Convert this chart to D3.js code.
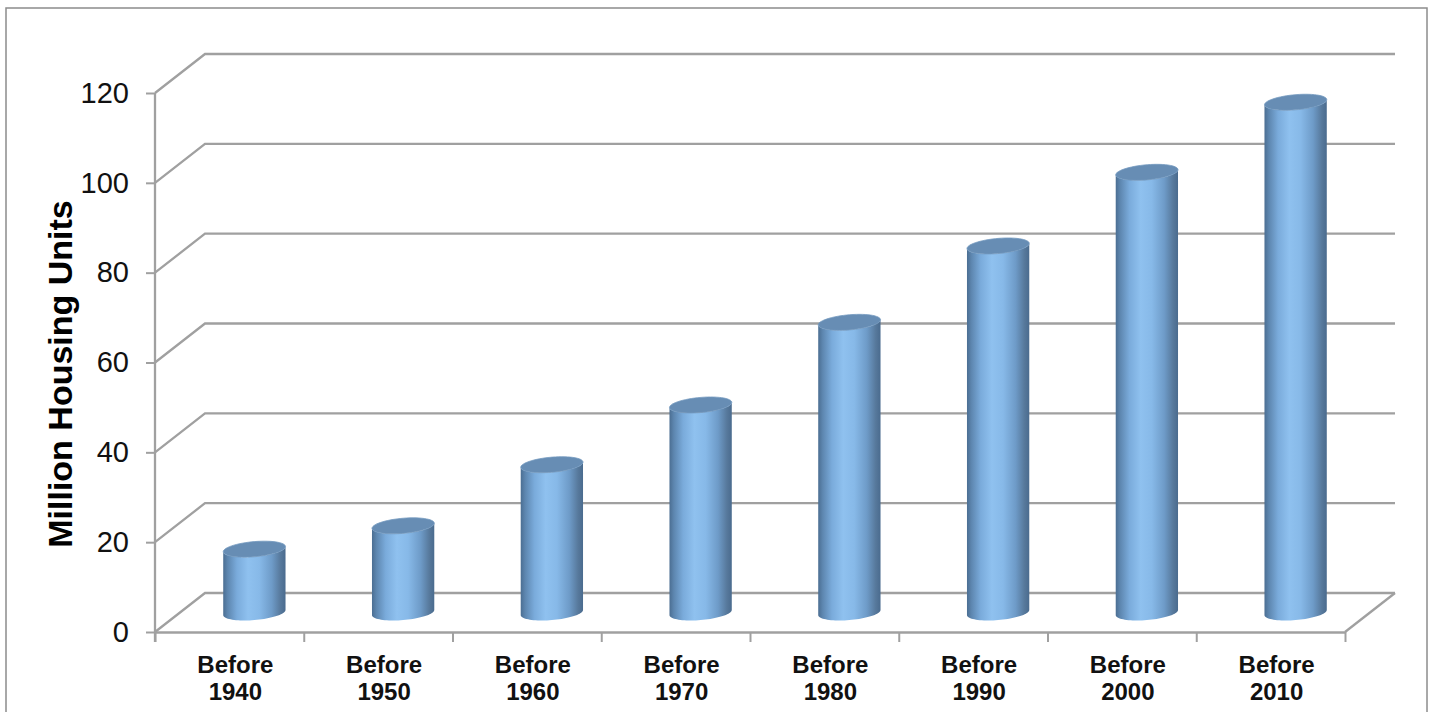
<!DOCTYPE html>
<html lang="en">
  <head>
    <meta charset="UTF-8" />
    <title>Million Housing Units</title>
    <script src="https://d3js.org/d3.v7.min.js"></script>
    <style>
      body { margin: 0; background: #fff; }
      svg { display: block; font-family: 'Liberation Sans', Arial, sans-serif; }
    </style>
  </head>
  <body>
    <svg id="chart"></svg>
    <script>
      // values
      const categories = ['Before 1940', 'Before 1950', 'Before 1960', 'Before 1970',
                          'Before 1980', 'Before 1990', 'Before 2000', 'Before 2010']
      const units = [14.1, 19.3, 32.9, 46.2, 64.6, 81.6, 98.0, 113.6]
      const yTicks = [0, 20, 40, 60, 80, 100, 120]
      const yTitle = 'Million Housing Units'

      const width = 1433
      const height = 712
      const plotLeft = 155, plotRight = 1345, plotBottom = 632, plotTop = 93
      const depthX = 50, depthY = -39   // front -> back wall offset

      const svg = d3.select('#chart').attr('width', width).attr('height', height)

      // outer chart border
      svg.append('rect')
        .attr('x', 6).attr('y', 8).attr('width', 1421).attr('height', 740)
        .attr('fill', '#fff').attr('stroke', '#8c8c8c').attr('stroke-width', 1.5)

      const x = d3.scaleBand().domain(categories).range([plotLeft, plotRight])
      const xEdge = d3.scaleLinear().domain([0, categories.length]).range([plotLeft, plotRight])
      const y = d3.scaleLinear().domain([0, 120]).range([plotBottom, plotTop])

      // back wall gridlines with their left-wall diagonals
      const grid = svg.append('g')
      grid.selectAll('path.grid')
        .data(yTicks)
        .enter()
        .append('path')
        .attr('class', 'grid')
        .attr('d', v => `M${plotLeft},${y(v)} L${plotLeft + depthX},${y(v) + depthY} L${plotRight + depthX},${y(v) + depthY}`)
        .attr('fill', 'none')
        .attr('stroke', '#a0a0a0')
        .attr('stroke-width', 2.3)

      // floor right edge
      grid.append('path')
        .attr('d', `M${plotRight},${y(0)} L${plotRight + depthX},${y(0) + depthY}`)
        .attr('fill', 'none').attr('stroke', '#a0a0a0').attr('stroke-width', 2.3)

      // y axis
      const yAxis = svg.append('g')
        .attr('transform', `translate(${plotLeft},0)`)
        .call(d3.axisLeft(y).tickValues(yTicks).tickSize(9).tickSizeOuter(0).tickPadding(17))
      yAxis.select('.domain').attr('stroke', '#a0a0a0').attr('stroke-width', 2.3)
        .attr('d', `M0,${plotTop}V${plotBottom + 10}`)
      yAxis.selectAll('.tick line').attr('stroke', '#a0a0a0').attr('stroke-width', 2)
      yAxis.selectAll('.tick text')
        .attr('font-size', 29).attr('fill', '#111')
        .style('font-family', "'Liberation Sans', Arial, sans-serif")

      // x axis (ticks at category edges)
      const xAxis = svg.append('g')
        .attr('transform', `translate(0,${plotBottom})`)
        .call(d3.axisBottom(xEdge).ticks(categories.length).tickSize(10).tickSizeOuter(0).tickFormat(''))
      xAxis.select('.domain').attr('stroke', '#a0a0a0').attr('stroke-width', 2.3)
      xAxis.selectAll('.tick line').attr('stroke', '#a0a0a0').attr('stroke-width', 2)

      // category labels
      const labels = svg.append('g')
        .selectAll('text')
        .data(categories)
        .enter()
        .append('text')
        .attr('text-anchor', 'middle')
        .attr('font-size', 24)
        .attr('font-weight', 'bold')
        .attr('fill', '#111')
      labels.each(function (d) {
        const cx = x(d) + x.bandwidth() / 2 + 6
        const parts = d.split(' ')
        d3.select(this).selectAll('tspan')
          .data(parts)
          .enter()
          .append('tspan')
          .attr('x', cx)
          .attr('y', (p, i) => 673 + i * 27)
          .text(p => p)
      })

      // y axis title
      svg.append('text')
        .attr('transform', 'translate(72,374) rotate(-90)')
        .attr('text-anchor', 'middle')
        .attr('font-size', 34)
        .attr('font-weight', 'bold')
        .attr('fill', '#000')
        .text(yTitle)

      // cylinder shading
      const defs = svg.append('defs')
      const grad = defs.append('linearGradient')
        .attr('id', 'cyl').attr('x1', 0).attr('x2', 1).attr('y1', 0).attr('y2', 0)
      const stops = [
        [0, '#4b6e92'], [0.07, '#5d86af'], [0.22, '#7aabdb'], [0.4, '#8fc1ef'],
        [0.58, '#87b9e8'], [0.78, '#6e9bc8'], [0.92, '#57799c'], [1, '#4a6b8e']
      ]
      grad.selectAll('stop').data(stops).enter().append('stop')
        .attr('offset', d => d[0]).attr('stop-color', d => d[1])

      const rx = 29.5, ry = 8, skew = 10
      const midX = depthX / 2, midY = depthY / 2
      const th0 = Math.atan2(skew, rx)
      const line = d3.line()

      function ring(cx, cy, a0, a1, n) {
        return d3.range(n + 1).map(i => {
          const t = a0 + (a1 - a0) * i / n
          return [cx + rx * Math.cos(t) + skew * Math.sin(t), cy - ry * Math.sin(t)]
        })
      }

      const cyl = svg.append('g')
        .selectAll('g')
        .data(categories.map((c, i) => ({ c, v: units[i] })))
        .enter()
        .append('g')

      cyl.append('path')
        .attr('d', d => {
          const cx = x(d.c) + x.bandwidth() / 2 + midX
          const yb = y(0) + midY, yt = y(d.v) + midY
          // front half of base, then up the right side, front half of top back to the left
          const base = ring(cx, yb, Math.PI + th0, 2 * Math.PI + th0, 40)
          const cap = ring(cx, yt, 2 * Math.PI + th0, Math.PI + th0, 40)
          return line(base.concat(cap)) + 'Z'
        })
        .attr('fill', 'url(#cyl)')

      cyl.append('path')
        .attr('d', d => {
          const cx = x(d.c) + x.bandwidth() / 2 + midX
          const yt = y(d.v) + midY
          return line(ring(cx, yt, 0, 2 * Math.PI, 60)) + 'Z'
        })
        .attr('fill', '#678db4')
        .attr('stroke', '#7399bf')
        .attr('stroke-width', 0.8)
    </script>
  </body>
</html>
